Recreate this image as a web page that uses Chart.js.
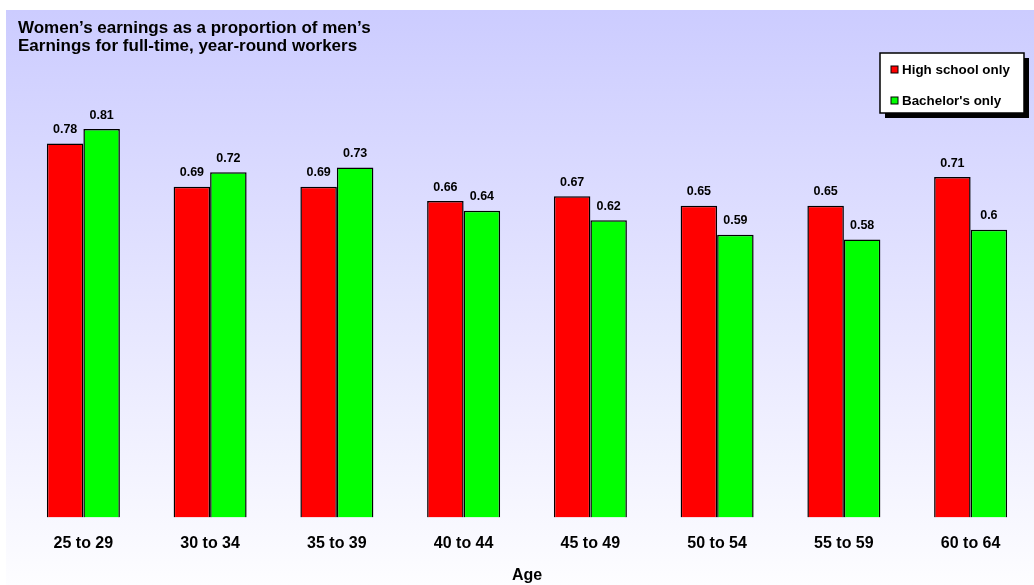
<!DOCTYPE html>
<html>
<head>
<meta charset="utf-8">
<script src="https://cdn.jsdelivr.net/npm/chart.js@4.4.1/dist/chart.umd.min.js"></script>
<style>
  html, body { margin: 0; padding: 0; background: #ffffff; }
  canvas { display: block; }
</style>
</head>
<body>
<canvas id="chart" width="1034" height="585"></canvas>
<script>
// Age groups along the x axis
const ageGroups = ['25 to 29', '30 to 34', '35 to 39', '40 to 44', '45 to 49', '50 to 54', '55 to 59', '60 to 64'];
// Women's earnings as a share of men's, by education
const highSchoolOnly = [0.78, 0.69, 0.69, 0.66, 0.67, 0.65, 0.65, 0.71];
const bachelorsOnly  = [0.81, 0.72, 0.73, 0.64, 0.62, 0.59, 0.58, 0.6];
const seriesNames = ['High school only', "Bachelor's only"];
const titleLines = ['Women\u2019s earnings as a proportion of men\u2019s', 'Earnings for full-time, year-round workers'];
const axisTitle = 'Age';

const FONT = "'Liberation Sans', Arial, Helvetica, sans-serif";

// Lavender panel fading to white
const panelBackground = {
  id: 'panelBackground',
  beforeDraw(chart) {
    const { ctx, width, height } = chart;
    ctx.save();
    ctx.fillStyle = '#ffffff';
    ctx.fillRect(0, 0, width, height);
    const g = ctx.createLinearGradient(0, 10, 0, height);
    g.addColorStop(0, '#ccccff');
    g.addColorStop(1, '#fdfdff');
    ctx.fillStyle = g;
    ctx.fillRect(6, 10, width - 6, height - 10);
    ctx.restore();
  }
};

// Two-line heading in the top-left corner
const headingText = {
  id: 'headingText',
  afterDraw(chart) {
    const { ctx } = chart;
    ctx.save();
    ctx.fillStyle = '#000000';
    ctx.font = 'bold 17px ' + FONT;
    ctx.textAlign = 'left';
    ctx.textBaseline = 'alphabetic';
    titleLines.forEach((line, i) => ctx.fillText(line, 18, 33 + i * 18));
    ctx.restore();
  }
};

// Value printed above every bar
const valueLabels = {
  id: 'valueLabels',
  afterDatasetsDraw(chart) {
    const { ctx } = chart;
    ctx.save();
    ctx.fillStyle = '#000000';
    ctx.font = 'bold 12.5px ' + FONT;
    ctx.textAlign = 'center';
    ctx.textBaseline = 'alphabetic';
    chart.data.datasets.forEach((ds, di) => {
      const meta = chart.getDatasetMeta(di);
      meta.data.forEach((bar, i) => {
        ctx.fillText(String(ds.data[i]), bar.x, bar.y - 10.5);
      });
    });
    ctx.restore();
  }
};

// Boxed legend with a drop shadow, top right
const boxedLegend = {
  id: 'boxedLegend',
  afterDraw(chart) {
    const { ctx } = chart;
    const x = 880, y = 53, w = 144, h = 60, shadow = 5;
    ctx.save();
    ctx.fillStyle = '#000000';
    ctx.fillRect(x + shadow, y + shadow, w, h);
    ctx.fillStyle = '#ffffff';
    ctx.fillRect(x, y, w, h);
    ctx.strokeStyle = '#000000';
    ctx.lineWidth = 1.5;
    ctx.strokeRect(x, y, w, h);
    ctx.font = 'bold 13.4px ' + FONT;
    ctx.textAlign = 'left';
    ctx.textBaseline = 'middle';
    chart.data.datasets.forEach((ds, i) => {
      const cy = 69.5 + i * 31;
      ctx.fillStyle = ds.backgroundColor;
      ctx.fillRect(891, cy - 3.5, 7, 7);
      ctx.lineWidth = 1;
      ctx.strokeStyle = '#000000';
      ctx.strokeRect(891, cy - 3.5, 7, 7);
      ctx.fillStyle = '#000000';
      ctx.fillText(ds.label, 902, cy + 0.5);
    });
    ctx.restore();
  }
};

new Chart(document.getElementById('chart'), {
  type: 'bar',
  data: {
    labels: ageGroups,
    datasets: [
      { label: seriesNames[0], data: highSchoolOnly, backgroundColor: '#ff0000', borderColor: '#000000', borderWidth: 1.5 },
      { label: seriesNames[1], data: bachelorsOnly,  backgroundColor: '#00ff00', borderColor: '#000000', borderWidth: 1.5 }
    ]
  },
  options: {
    responsive: false,
    animation: false,
    devicePixelRatio: 1,
    layout: { padding: { left: 20, right: 0, top: 38, bottom: 0 } },
    datasets: { bar: { categoryPercentage: 0.576, barPercentage: 1.0 } },
    plugins: {
      legend: { display: false },
      title: { display: false },
      tooltip: { enabled: false }
    },
    scales: {
      x: {
        grid: { display: false, drawTicks: false },
        border: { display: false },
        ticks: {
          color: '#000000',
          font: { family: FONT, size: 16, weight: 'bold' },
          padding: 16,
          maxRotation: 0,
          autoSkip: false
        },
        title: {
          display: true,
          text: axisTitle,
          color: '#000000',
          font: { family: FONT, size: 16, weight: 'bold' },
          padding: { top: -3, bottom: 0 }
        }
      },
      y: {
        display: false,
        min: 0,
        max: 1
      }
    }
  },
  plugins: [panelBackground, headingText, valueLabels, boxedLegend]
});
</script>
</body>
</html>
